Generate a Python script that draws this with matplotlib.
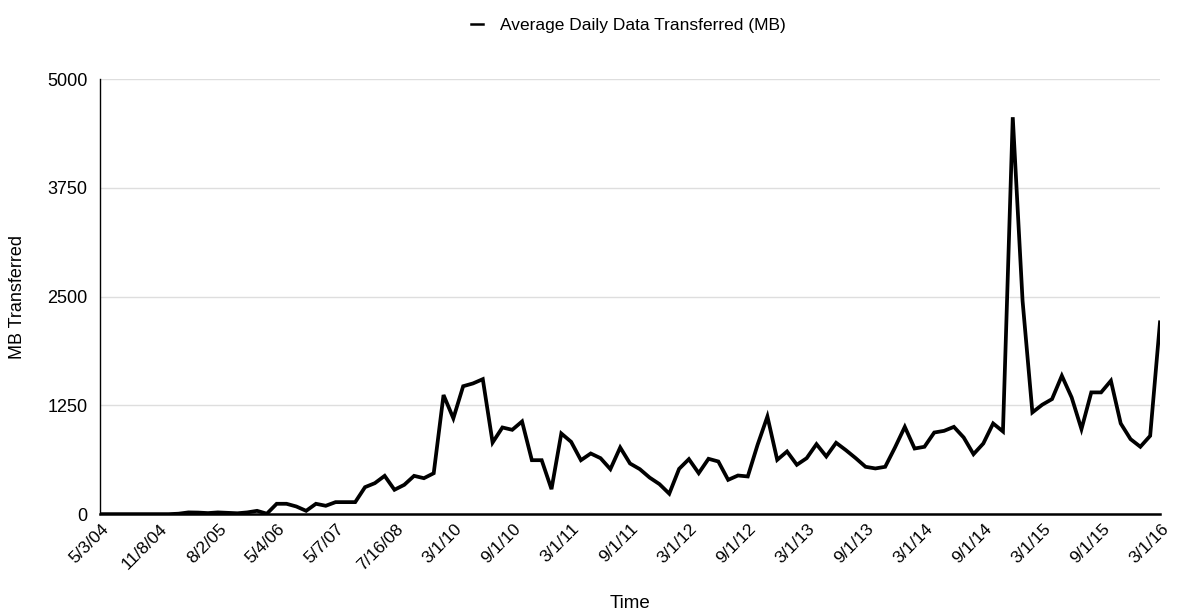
import matplotlib
matplotlib.use("Agg")
import matplotlib.pyplot as plt
import matplotlib.transforms as mtransforms
from matplotlib.lines import Line2D

# datos (MB promedio diario por periodo)
valores_mb = [
    0, 0, 0, 0, 0, 0, 0, 0, 5, 20,
    18, 12, 20, 15, 10, 20, 38, 5, 119, 119,
    88, 38, 119, 96, 138, 138, 138, 310, 356, 440,
    280, 337, 440, 413, 470, 1369, 1101, 1470, 1502, 1551,
    823, 996, 969, 1065, 620, 620, 287, 927, 831, 620,
    697, 643, 517, 766, 582, 517, 420, 345, 235, 520,
    632, 471, 636, 605, 394, 444, 433, 797, 1122, 624,
    720, 567, 643, 804, 663, 820, 735, 643, 544, 525,
    544, 766, 1003, 754, 774, 938, 957, 1003, 881, 689,
    812, 1042, 950, 4561, 2450, 1169, 1257, 1322, 1590, 1341,
    977, 1399, 1399, 1533, 1042, 862, 774, 900, 2204,
]

# etiquetas del eje x (una cada 6 categorias)
etiquetas_x = [
    "5/3/04", "11/8/04", "8/2/05", "5/4/06", "5/7/07", "7/16/08",
    "3/1/10", "9/1/10", "3/1/11", "9/1/11", "3/1/12", "9/1/12",
    "3/1/13", "9/1/13", "3/1/14", "9/1/14", "3/1/15", "9/1/15", "3/1/16",
]
paso_etiquetas = 6
ticks_y = [0, 1250, 2500, 3750, 5000]
nombre_serie = "Average Daily Data Transferred (MB)"

plt.rcParams["font.family"] = ["Liberation Sans", "DejaVu Sans"]

fig = plt.figure(figsize=(11.81, 6.15), dpi=100)
ax = fig.add_axes([0.0847, 0.164, 0.8975, 0.7075])

x = list(range(len(valores_mb)))
ax.plot(x, valores_mb, color="black", linewidth=2.7,
        solid_joinstyle="miter", zorder=3)

ax.set_xlim(0, len(valores_mb) - 1)
ax.set_ylim(0, 5000)
ax.set_yticks(ticks_y)
ax.set_yticklabels([str(t) for t in ticks_y], fontsize=13)
ax.grid(axis="y", color="#dedede", linewidth=1)
ax.set_axisbelow(True)

posiciones = [i * paso_etiquetas for i in range(len(etiquetas_x))]
ax.set_xticks(posiciones)
ax.set_xticklabels(etiquetas_x, rotation=45, ha="right", va="center",
                   rotation_mode="anchor", fontsize=12.5)
ax.tick_params(axis="x", length=0, pad=9)
ax.tick_params(axis="y", length=0, pad=9)

# correr un poco las etiquetas a la derecha, como en el original
corrimiento = mtransforms.ScaledTranslation(6 / 100, 0, fig.dpi_scale_trans)
for etiqueta in ax.get_xticklabels():
    etiqueta.set_transform(etiqueta.get_transform() + corrimiento)

ax.spines["top"].set_visible(False)
ax.spines["right"].set_visible(False)
ax.spines["bottom"].set_linewidth(1.8)
ax.spines["left"].set_linewidth(1.0)

fig.text(18 / 1181, 0.517, "MB Transferred", rotation=90, ha="center",
         va="center", fontsize=13)
fig.text(0.5335, 0.0195, "Time", ha="center", va="center", fontsize=13.5)

# leyenda arriba, con un guion corto como en el original
marca = Line2D([], [], color="black", linewidth=1.8)
fig.legend([marca], [nombre_serie], loc="center",
           bbox_to_anchor=(0.532, 0.958), frameon=False,
           handlelength=0.7, handletextpad=1.0, fontsize=12.5)

fig.savefig("out.png", dpi=100)
